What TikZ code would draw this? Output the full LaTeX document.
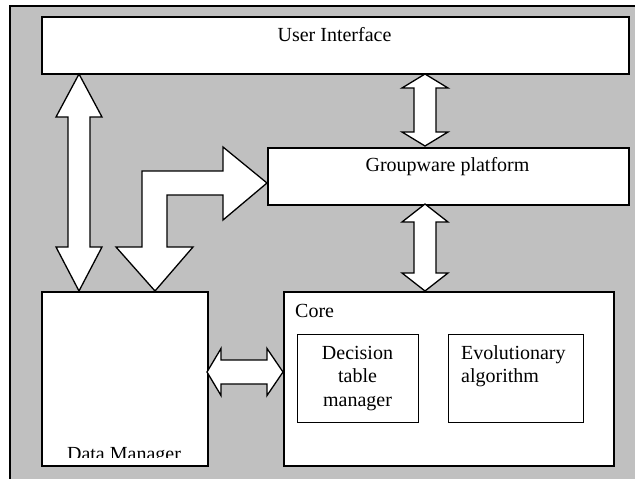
\documentclass[tikz,border=0pt]{standalone}
\usepackage{fontspec}
\setmainfont{Liberation Serif}
\usetikzlibrary{calc}
\definecolor{bggray}{RGB}{192,192,192}
\tikzset{
  box/.style={draw=black, fill=white, line width=1.5pt, inner sep=0pt, anchor=north west},
  lbl/.style={inner sep=0pt, font=\fontsize{20}{23.5}\selectfont},
  barrow/.style={draw=black, fill=white, line width=1.3pt, line join=miter},
}
\begin{document}
\begin{tikzpicture}[x=1pt,y=-1pt]
\useasboundingbox (0,0) rectangle (635,479);
\clip (0,0) rectangle (635,479);
% background frame
\draw[fill=bggray, line width=1.8pt] (10,6) rectangle (660,500);
% boxes
\node[box, minimum width=587pt, minimum height=57pt] (ui) at (41,16) {};
\node[box, minimum width=361pt, minimum height=57pt] (gp) at (267,147) {};
\node[box, minimum width=166pt, minimum height=174pt] (dm) at (41,291) {};
\node[box, minimum width=330pt, minimum height=174pt] (core) at (283,291) {};
\node[box, minimum width=121pt, minimum height=88pt, line width=1.3pt] (dtm) at (297,334) {};
\node[box, minimum width=135pt, minimum height=88pt, line width=1.3pt] (ea) at (448,334) {};
% labels
\node[lbl, anchor=base] (uit) at (334.5,41) {User Interface};
\node[lbl, anchor=base] (gpt) at (447.5,171) {Groupware platform};
\node[lbl, anchor=base west] (coret) at (295,317) {Core};
\node[lbl, anchor=base, text width=120pt, align=center] (dtmt) at (357.5,359) {Decision\\table\\manager};
\node[lbl, anchor=base west, text width=120pt, align=left] (eat) at (461,359) {Evolutionary\\algorithm};
\begin{scope}
\clip (41,291) rectangle (207,457);
\node[lbl, anchor=base] (dmt) at (124,460) {Data Manager};
\end{scope}
% UI <-> GP
\draw[barrow] (425,74) -- (448,88) -- (436,88) -- (436,132) -- (448,132) -- (425,146)
  -- (402,132) -- (414,132) -- (414,88) -- (402,88) -- cycle;
% GP <-> Core
\draw[barrow] (425,204) -- (448,222) -- (436,222) -- (436,273) -- (448,273) -- (425,291)
  -- (402,273) -- (414,273) -- (414,222) -- (402,222) -- cycle;
% UI <-> DM
\draw[barrow] (79,74) -- (102,117) -- (90,117) -- (90,247) -- (102,247) -- (79,291)
  -- (56,247) -- (68,247) -- (68,117) -- (56,117) -- cycle;
% DM <-> Core
\draw[barrow] (207,372) -- (221,348.5) -- (221,360) -- (267,360) -- (267,348.5) -- (283,372)
  -- (267,395.5) -- (267,384) -- (221,384) -- (221,395.5) -- cycle;
% bent arrow DM <-> GP
\draw[barrow] (155,291) -- (193,247) -- (167,247) -- (167,195) -- (223,195) -- (223,220)
  -- (267,183) -- (223,147) -- (223,171) -- (142,171) -- (142,247) -- (116,247) -- cycle;
\end{tikzpicture}
\end{document}
